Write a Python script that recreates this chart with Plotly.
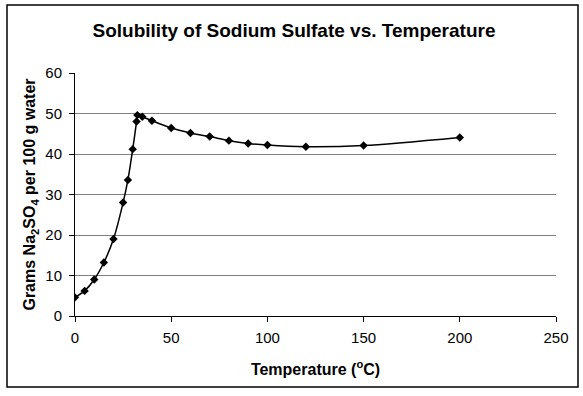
import plotly.graph_objects as go

temperature = [0, 5, 10, 15, 20, 25, 27.5, 30, 32, 32.4, 35, 40, 50, 60, 70, 80, 90, 100, 120, 150, 200]
solubility = [4.6, 6.2, 9.0, 13.2, 19.0, 28.0, 33.6, 41.2, 48.0, 49.6, 49.2, 48.2, 46.4, 45.2, 44.3, 43.3, 42.6, 42.2, 41.8, 42.1, 44.1]

x_ticks = [0, 50, 100, 150, 200, 250]
y_ticks = [0, 10, 20, 30, 40, 50, 60]
y_grid = [10, 20, 30, 40, 50]

title_text = "<b>Solubility of Sodium Sulfate vs. Temperature</b>"
x_title = "<b>Temperature (<sup>o</sup>C)</b>"
y_title = "<b>Grams Na<sub>2</sub>SO<sub>4</sub> per 100 g water</b>"

FONT = "Liberation Sans, Arial, sans-serif"

fig = go.Figure()
fig.add_trace(go.Scatter(
    x=temperature, y=solubility, mode="lines+markers",
    line=dict(color="black", width=1.5, shape="spline", smoothing=0.8),
    marker=dict(symbol="diamond", size=6.5, color="black"),
    showlegend=False,
))
# invisible trace to carry the grid axis
fig.add_trace(go.Scatter(x=[None], y=[None], yaxis="y2", showlegend=False, hoverinfo="skip"))

fig.update_layout(
    width=583, height=396,
    margin=dict(l=75, r=27, t=73, b=80),
    paper_bgcolor="white", plot_bgcolor="white",
    font=dict(family=FONT, size=15, color="black"),
    title=dict(text=title_text, x=(294 - 75) / 481, xref="paper", xanchor="center",
               y=1 - 30 / 396, yanchor="middle",
               font=dict(family=FONT, size=19, color="black")),
    xaxis=dict(range=[0, 250], tickvals=x_ticks, showgrid=False, zeroline=False,
               showline=True, linecolor="black", linewidth=1,
               ticks="outside", ticklen=5, tickcolor="black",
               tickfont=dict(family=FONT, size=15), ticklabelstandoff=3,
               title=dict(text=x_title, standoff=18, font=dict(family=FONT, size=16))),
    yaxis=dict(range=[0, 60], tickvals=y_ticks, showgrid=False, zeroline=False,
               showline=True, linecolor="black", linewidth=1,
               ticks="outside", ticklen=5, tickcolor="black",
               tickfont=dict(family=FONT, size=15), ticklabelstandoff=4,
               title=dict(text=y_title, standoff=5, font=dict(family=FONT, size=16))),
    yaxis2=dict(range=[0, 60], overlaying="y", tickvals=y_grid, showgrid=True,
                gridcolor="#808080", gridwidth=1, showticklabels=False,
                zeroline=False, showline=False, ticks=""),
    shapes=[dict(type="rect", xref="paper", yref="paper",
                 x0=(7 - 75) / 481, x1=(578 - 75) / 481,
                 y0=(316 - 387) / 243, y1=(316 - 5) / 243,
                 line=dict(color="black", width=1.5), layer="below")],
)

fig.write_html("out.html", config={"displayModeBar": False},
               post_script="document.body.style.margin='0';")
